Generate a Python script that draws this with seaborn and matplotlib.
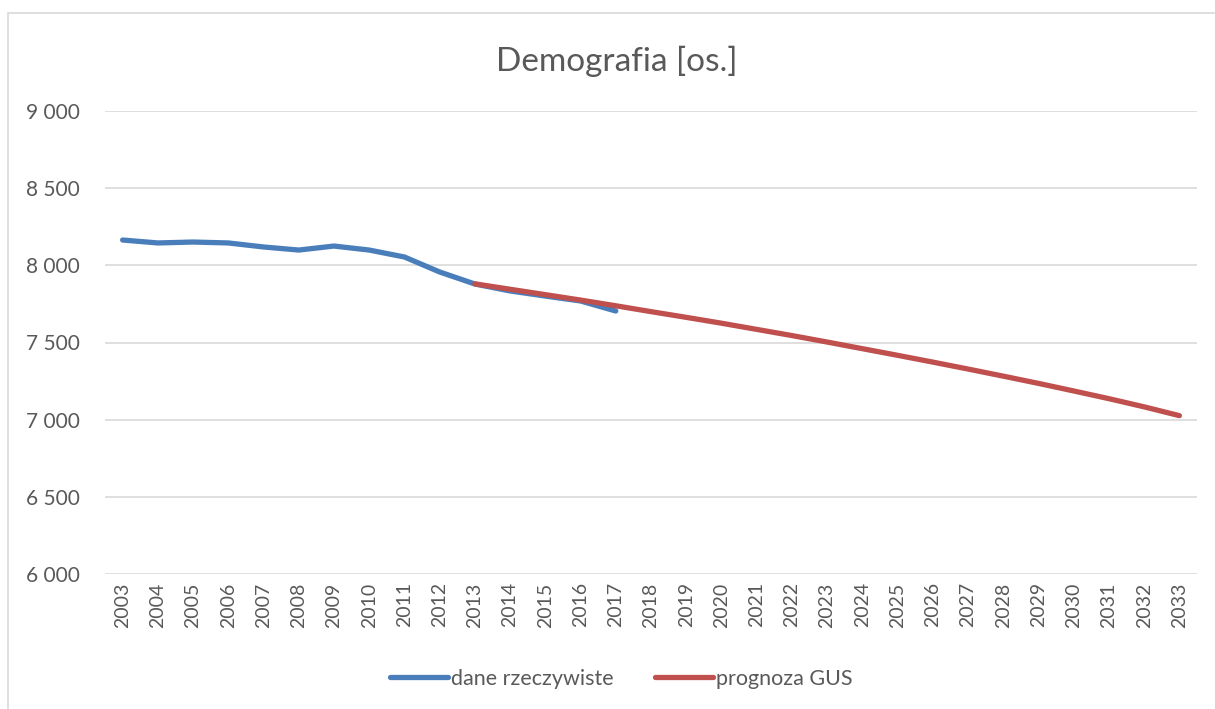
import pandas as pd
import seaborn as sns
import matplotlib.pyplot as plt
from matplotlib.patches import Rectangle

# --- DANE ---
lata_rzecz = list(range(2003, 2018))
dane_rzeczywiste = [8164, 8145, 8151, 8145, 8119, 8099, 8125, 8099, 8054,
                    7957, 7879, 7834, 7801, 7769, 7704]

lata_prog = list(range(2013, 2034))
prognoza_gus = [7880, 7845, 7810, 7775, 7738, 7700, 7663, 7625, 7585, 7545,
                7503, 7460, 7417, 7373, 7328, 7282, 7235, 7186, 7136, 7083, 7026]

lata_wszystkie = list(range(2003, 2034))
etykiety_y = ['6 000', '6 500', '7 000', '7 500', '8 000', '8 500', '9 000']
wartosci_y = [6000, 6500, 7000, 7500, 8000, 8500, 9000]

df = pd.concat([
    pd.DataFrame({'rok': lata_rzecz, 'os': dane_rzeczywiste, 'seria': 'dane rzeczywiste'}),
    pd.DataFrame({'rok': lata_prog, 'os': prognoza_gus, 'seria': 'prognoza GUS'}),
])

sns.set_style('white')
plt.rcParams['font.family'] = ['Lato', 'DejaVu Sans']

fig = plt.figure(figsize=(12.15, 7.09), dpi=100)
ax = fig.add_axes([105 / 1215, 1 - 574 / 709, 1092 / 1215, 463 / 709])

sns.lineplot(data=df, x='rok', y='os', hue='seria', ax=ax,
             palette={'dane rzeczywiste': '#4A7EBB', 'prognoza GUS': '#C0504D'},
             linewidth=3.8, solid_capstyle='round', legend=False)

ax.set_xlim(2002.5, 2033.5)
ax.set_ylim(6000, 9000)
ax.set_yticks(wartosci_y)
ax.set_yticklabels(etykiety_y)
ax.set_xticks(lata_wszystkie)
ax.set_xticklabels([str(r) for r in lata_wszystkie], rotation=90)
ax.tick_params(axis='both', length=0, labelcolor='#595959')
ax.tick_params(axis='y', pad=18, labelsize=15)
ax.tick_params(axis='x', pad=6, labelsize=14)
ax.grid(axis='y', color='#D9D9D9', linewidth=1.2)
ax.set_axisbelow(True)
for s in ax.spines.values():
    s.set_visible(False)
ax.set_xlabel('')
ax.set_ylabel('')

fig.text(617 / 1215, 1 - 61 / 709, 'Demografia [os.]', ha='center', va='center',
         fontsize=24, color='#595959')

# ramka wykresu
fig.patches.append(Rectangle((8 / 1215, -0.05), 1.0, 1 - 13 / 709 + 0.05,
                             transform=fig.transFigure, fill=False,
                             edgecolor='#D9D9D9', linewidth=1.2))

uchwyty = [plt.Line2D([], [], color='#4A7EBB', linewidth=3.8, solid_capstyle='round'),
           plt.Line2D([], [], color='#C0504D', linewidth=3.8, solid_capstyle='round')]
fig.legend(uchwyty, ['dane rzeczywiste', 'prognoza GUS'], loc='center',
           bbox_to_anchor=(621 / 1215, 1 - 679 / 709), ncol=2, frameon=False,
           fontsize=15.5, labelcolor='#595959', handlelength=2.7,
           handletextpad=0.15, columnspacing=1.9)

fig.savefig('out.png', dpi=100)
